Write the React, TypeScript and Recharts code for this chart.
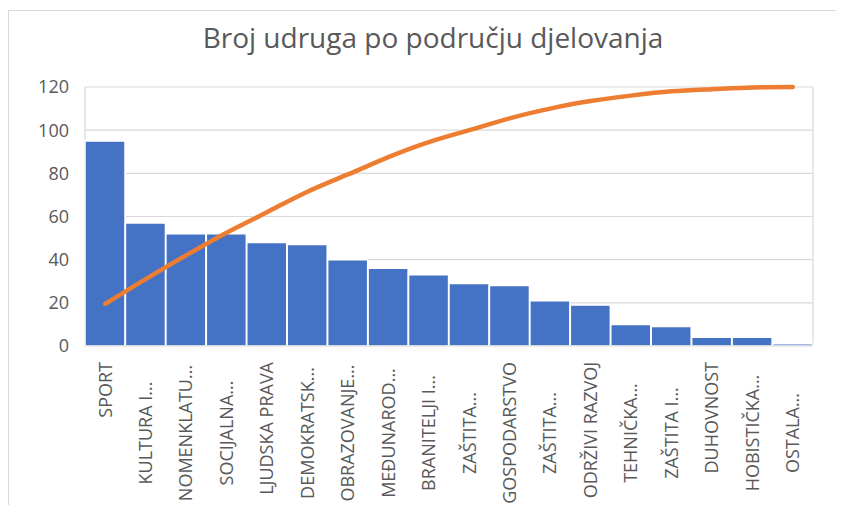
import React from 'react';
import { Bar, CartesianGrid, ComposedChart, Line, XAxis, YAxis } from 'recharts';

const categories = [
  'SPORT',
  'KULTURA I...',
  'NOMENKLATU...',
  'SOCIJALNA...',
  'LJUDSKA PRAVA',
  'DEMOKRATSK...',
  'OBRAZOVANJE...',
  'MEĐUNAROD...',
  'BRANITELJI I...',
  'ZAŠTITA...',
  'GOSPODARSTVO',
  'ZAŠTITA...',
  'ODRŽIVI RAZVOJ',
  'TEHNIČKA...',
  'ZAŠTITA I...',
  'DUHOVNOST',
  'HOBISTIČKA...',
  'OSTALA...',
];
const counts = [95, 57, 52, 52, 48, 47, 40, 36, 33, 29, 28, 21, 19, 10, 9, 4, 4, 1];
const cumulative = [19.5, 31, 42, 52.5, 62, 71.5, 79.5, 87.5, 94.5, 100, 105.5, 110, 113.5, 116, 118, 119, 119.8, 120];
const yTicks = [0, 20, 40, 60, 80, 100, 120];

const data = categories.map((name, i) => ({ name, count: counts[i], cum: cumulative[i] }));

const FONT = '"Open Sans", sans-serif';
const TEXT = '#595959';

const XTick = ({ x, y, payload }: any) => {
  const label: string = payload.value;
  const cut = label.endsWith('...');
  // full labels hang from the top, truncated ones are centred
  const ty = cut ? y + 87 : y + 16;
  return (
    <text
      transform={`translate(${x},${ty}) rotate(-90)`}
      textAnchor={cut ? 'middle' : 'end'}
      dy="0.35em"
      fontSize={18}
      fontFamily={FONT}
      fill={TEXT}
    >
      {label}
    </text>
  );
};

export default function App() {
  return (
    <div style={{ position: 'relative', width: 828, height: 497 }}>
      <div
        style={{
          position: 'absolute',
          left: 0,
          top: 2,
          width: 827,
          height: 494,
          borderLeft: '1px solid #d9d9d9',
          borderTop: '1px solid #d9d9d9',
        }}
      />
      <svg width={828} height={60} style={{ position: 'absolute', left: 0, top: 0 }}>
        <text x={425} y={40} textAnchor="middle" fontSize={28} fontFamily={FONT} fill={TEXT}>
          Broj udruga po području djelovanja
        </text>
      </svg>
      <div style={{ position: 'absolute', left: 0, top: 0 }}>
        <ComposedChart
          width={828}
          height={497}
          data={data}
          margin={{ top: 79, right: 23, bottom: 0, left: 0 }}
          barCategoryGap={0}
        >
          <CartesianGrid
            stroke="#d9d9d9"
            strokeWidth={1.2}
            verticalCoordinatesGenerator={({ offset }: any) => [offset.left, offset.left + offset.width]}
          />
          <XAxis
            dataKey="name"
            interval={0}
            height={159}
            tickSize={0}
            tickMargin={0}
            tickLine={false}
            axisLine={{ stroke: '#d9d9d9' }}
            tick={<XTick />}
          />
          <YAxis
            width={77}
            domain={[0, 120]}
            ticks={yTicks}
            axisLine={false}
            tickLine={false}
            tickMargin={10}
            tick={{ fontSize: 18, fontFamily: FONT, fill: TEXT }}
          />
          <Bar dataKey="count" fill="#4472C4" stroke="#ffffff" strokeWidth={1.5} isAnimationActive={false} />
          <Line
            type="natural"
            dataKey="cum"
            stroke="#ED7D31"
            strokeWidth={4.5}
            strokeLinecap="round"
            dot={false}
            isAnimationActive={false}
          />
        </ComposedChart>
      </div>
    </div>
  );
}
